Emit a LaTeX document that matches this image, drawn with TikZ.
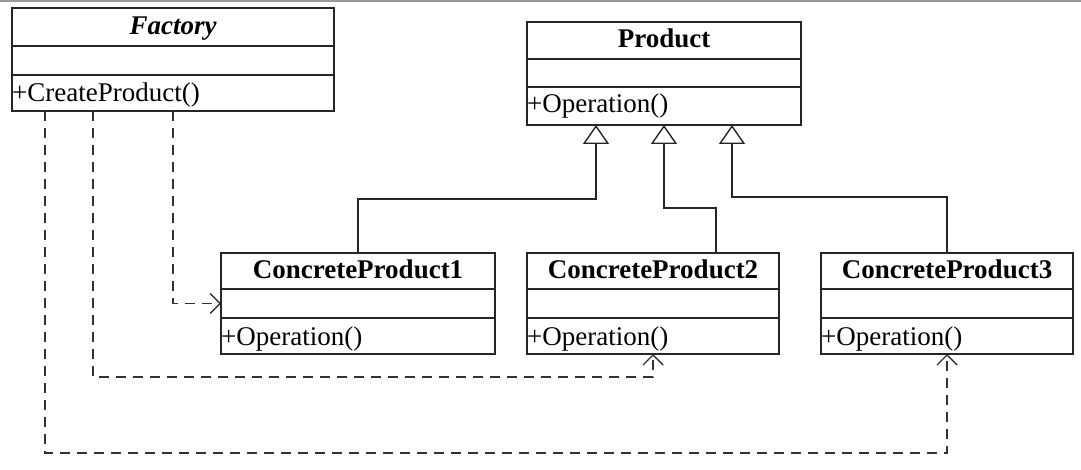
\documentclass[tikz,border=0pt]{standalone}
\usepackage{fontspec}
\setmainfont{Liberation Serif}
\usetikzlibrary{arrows.meta}
\begin{document}
\begin{tikzpicture}[x=1pt,y=-1pt,
  cls/.style={draw=black!85, line width=1.6pt, rectangle, inner sep=0pt, outer sep=0pt},
  divider/.style={draw=black!85, line width=1.6pt},
  ttl/.style={font=\fontsize{27}{30}\selectfont\bfseries, inner sep=0pt, anchor=base},
  opr/.style={font=\fontsize{27}{30}\selectfont, anchor=base west, inner sep=0pt},
  inh/.style={draw=black!85, line width=1.4pt, -{Triangle[open,length=19pt,width=26pt,line width=1.4pt]}},
  dep/.style={draw=black!80, line width=1.4pt, dash pattern=on 10pt off 7pt, -{Straight Barb[length=10pt,width=20pt,line width=1.4pt]}}
]
\useasboundingbox (0,0) rectangle (1081,470);
\fill[white] (0,0) rectangle (1081,470);
\draw[black!40, line width=2pt] (0,1) -- (1081,1);

% Factory
\node[cls, minimum width=322pt, minimum height=103pt] (fac) at (173,59.5) {};
\draw[divider] (fac.west |- 0,46) -- (fac.east |- 0,46);
\draw[divider] (fac.west |- 0,75) -- (fac.east |- 0,75);
\node[ttl, font=\fontsize{27}{30}\selectfont\bfseries\itshape] (factitle) at (173,35) {Factory};
\node[opr] (facop) at (12,102) {+CreateProduct()};

% Product
\node[cls, minimum width=274pt, minimum height=103pt] (prod) at (664,73.5) {};
\draw[divider] (prod.west |- 0,59) -- (prod.east |- 0,59);
\draw[divider] (prod.west |- 0,87) -- (prod.east |- 0,87);
\node[ttl] (prodtitle) at (664,48) {Product};
\node[opr] (prodop) at (527,113) {+Operation()};

% ConcreteProduct1
\node[cls, minimum width=274pt, minimum height=101pt] (cp1) at (358,303.5) {};
\draw[divider] (cp1.west |- 0,289) -- (cp1.east |- 0,289);
\draw[divider] (cp1.west |- 0,318) -- (cp1.east |- 0,318);
\node[ttl] (cp1title) at (358,279) {ConcreteProduct1};
\node[opr] (cp1op) at (221,345) {+Operation()};

% ConcreteProduct2
\node[cls, minimum width=252pt, minimum height=101pt] (cp2) at (653,303.5) {};
\draw[divider] (cp2.west |- 0,289) -- (cp2.east |- 0,289);
\draw[divider] (cp2.west |- 0,318) -- (cp2.east |- 0,318);
\node[ttl] (cp2title) at (653,279) {ConcreteProduct2};
\node[opr] (cp2op) at (527,345) {+Operation()};

% ConcreteProduct3
\node[cls, minimum width=252pt, minimum height=101pt] (cp3) at (947,303.5) {};
\draw[divider] (cp3.west |- 0,289) -- (cp3.east |- 0,289);
\draw[divider] (cp3.west |- 0,318) -- (cp3.east |- 0,318);
\node[ttl] (cp3title) at (947,279) {ConcreteProduct3};
\node[opr] (cp3op) at (821,345) {+Operation()};

% generalisations
\draw[inh] (cp1.north) -- (cp1.north |- 0,199) -| (prod.south -| 596,0);
\draw[inh] (cp2.north -| 716,0) -- (716,208) -| (prod.south -| 664,0);
\draw[inh] (cp3.north) -- (cp3.north |- 0,197) -| (prod.south -| 732,0);

% dependencies
\draw[dep] (fac.south -| 173,0) |- (cp1.west);
\draw[dep] (fac.south -| 93,0) |- (cp2.south |- 0,377) -- (cp2.south);
\draw[dep] (fac.south -| 45,0) |- (cp3.south |- 0,453) -- (cp3.south);
\end{tikzpicture}
\end{document}
